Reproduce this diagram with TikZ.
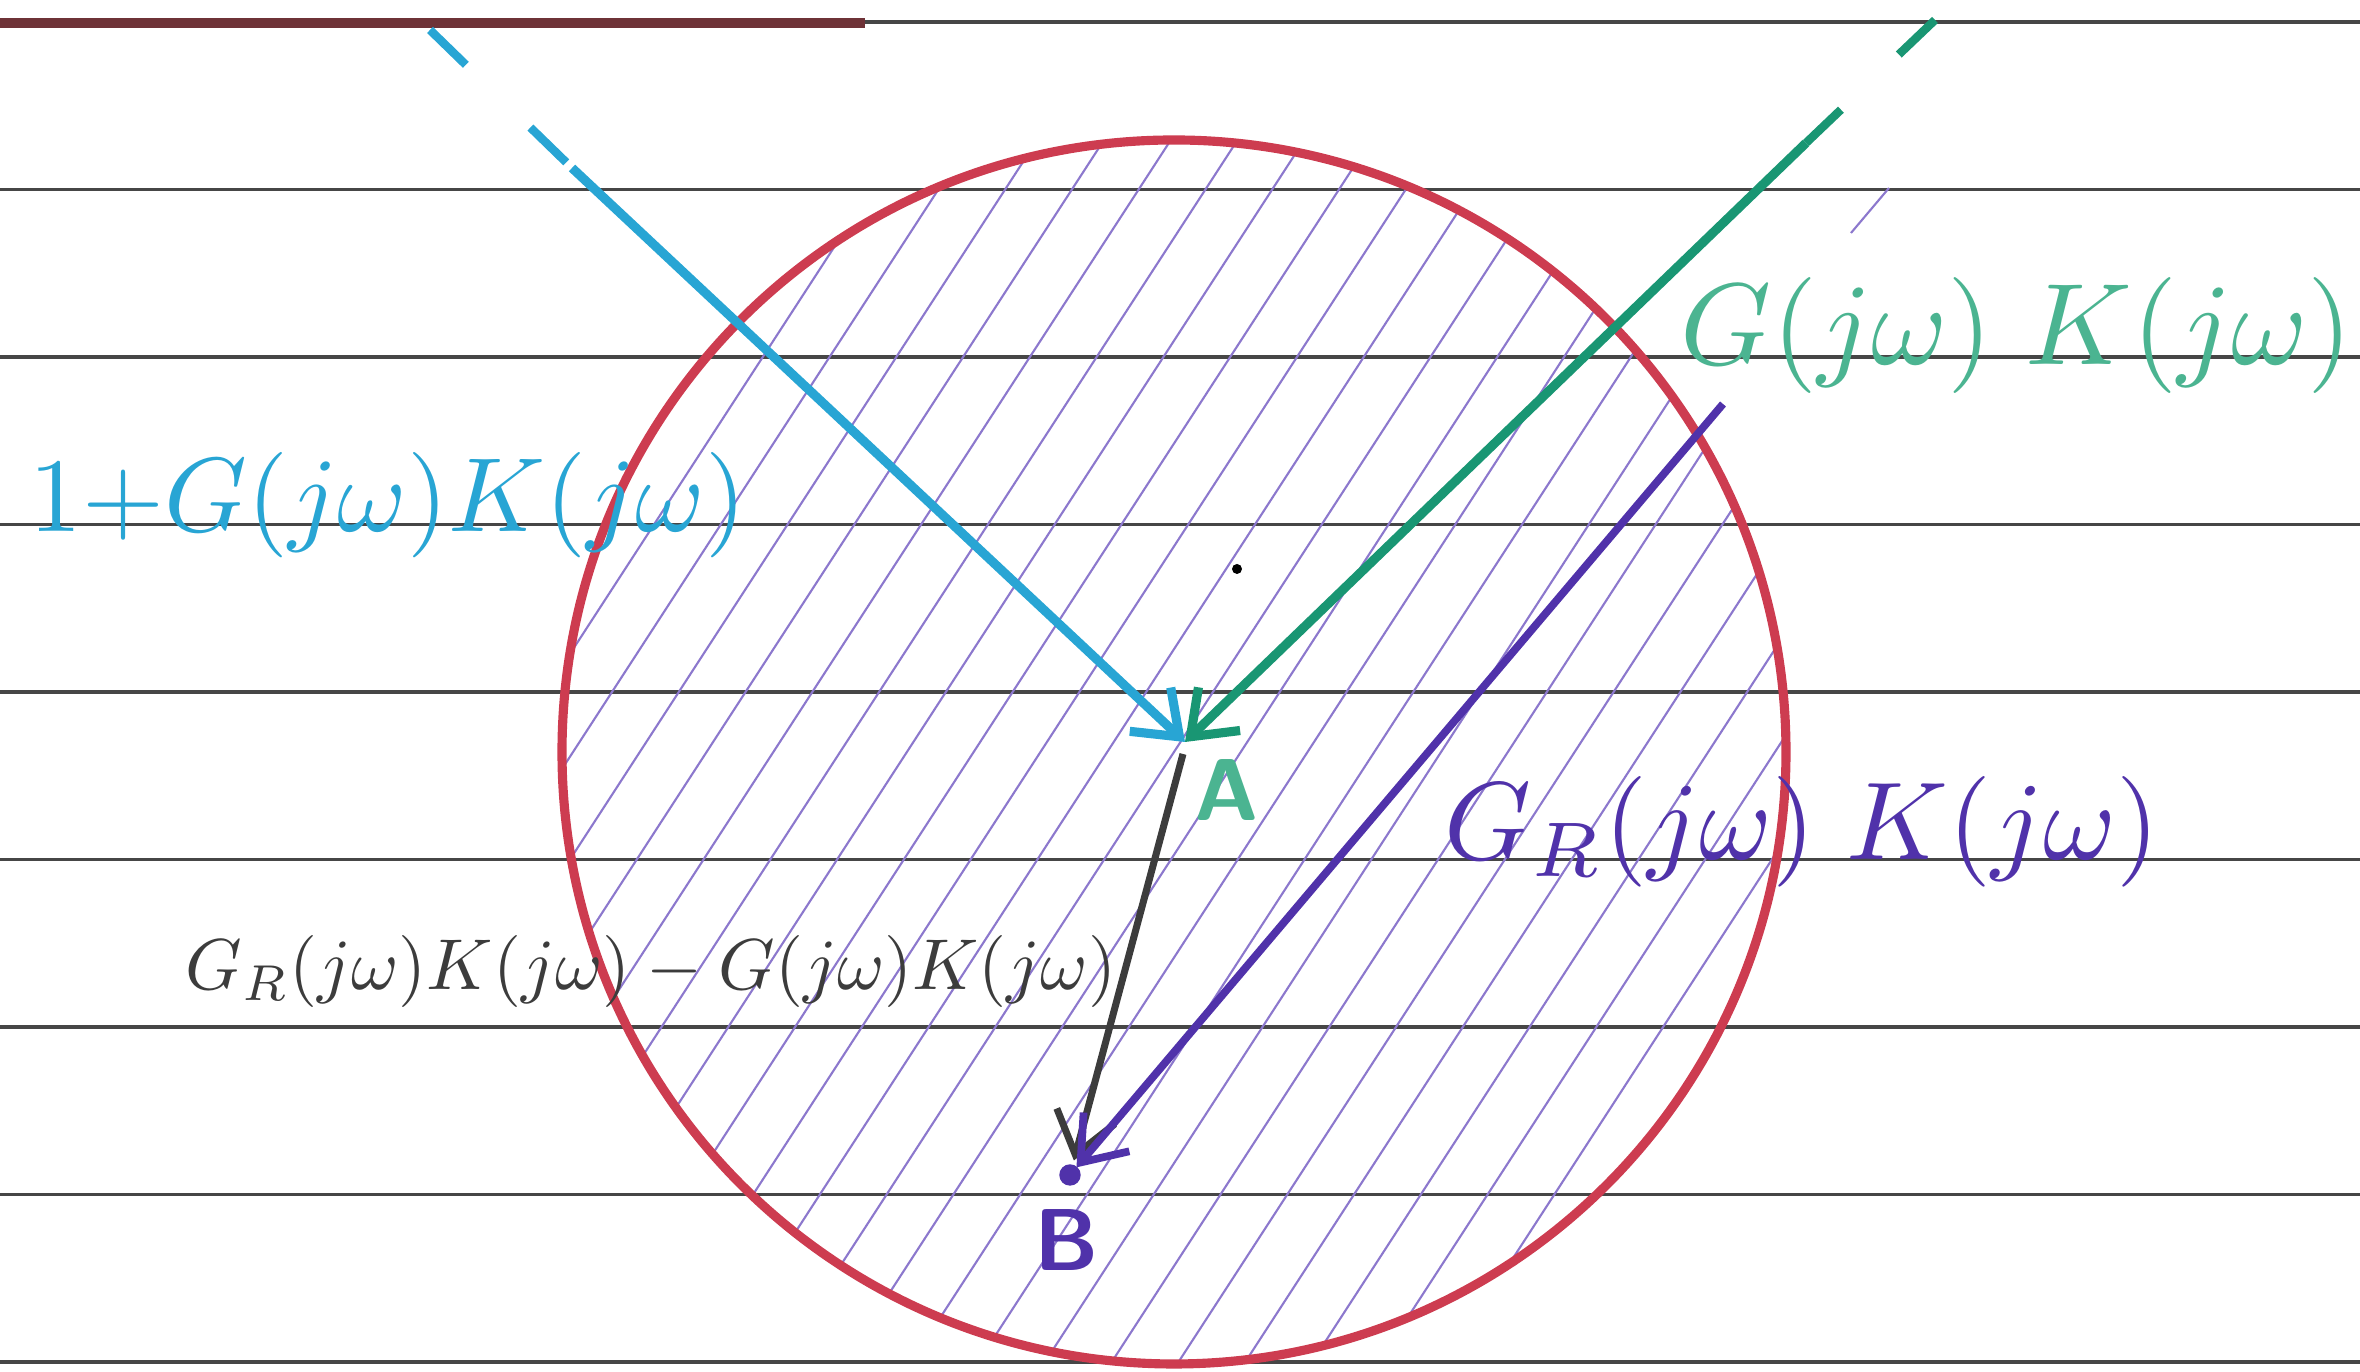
\documentclass[tikz,border=0pt]{standalone}
\usepackage{amsmath,amssymb}
\usepackage{tikz}
\usetikzlibrary{arrows.meta}

\definecolor{penblue}{RGB}{40,165,212}
\definecolor{pengreen}{RGB}{25,150,115}
\definecolor{penlgreen}{RGB}{75,180,145}
\definecolor{penpurple}{RGB}{80,50,170}
\definecolor{penlilac}{RGB}{140,120,205}
\definecolor{penred}{RGB}{205,60,80}
\definecolor{pengrey}{RGB}{60,60,60}
\definecolor{ruling}{RGB}{70,70,70}
\definecolor{headline}{RGB}{110,50,55}

\begin{document}
\begin{tikzpicture}[>={Straight Barb[length=4mm,width=6mm]}]
    \useasboundingbox (0,0) rectangle (23.6,13.72);
    % ruled paper
    \foreach \k in {0,...,8}
      \draw[ruling,line width=0.9pt] (0,{13.50-1.675*\k}) -- (23.6,{13.50-1.675*\k});
    \draw[headline,line width=3pt] (0,13.49) -- (8.65,13.49);

    \coordinate (O) at (11.74,6.20);
    \coordinate (A) at (11.85,6.30);
    \coordinate (B) at (10.70,1.97);
    \coordinate (bluefar) at (4.30,13.42);
    \coordinate (bluenear) at (5.72,12.04);
    \coordinate (greenfar) at (19.35,13.52);
    \coordinate (greennear) at (18.06,12.29);
    \coordinate (purplestart) at (17.23,9.68);

    % hatched disc
    \begin{scope}
      \clip (O) circle (6.12);
      \begin{scope}[shift={(O)},rotate=57]
        \foreach \s in {-6.16,-5.60,...,6.2}
          \draw[penlilac,line width=0.6pt] (-7,\s) -- (7,\s);
      \end{scope}
    \end{scope}
    \draw[penlilac,line width=0.6pt] (18.89,11.84) -- (18.51,11.39);
    \draw[penred,line width=2.6pt] (O) circle (6.12);

    % vectors
    \draw[penblue,line width=2.4pt,dash pattern=on 5mm off 9mm] (bluefar) -- (bluenear);
    \draw[->,penblue,line width=2.6pt] (bluenear) -- (A);
    \draw[pengreen,line width=2.4pt,dash pattern=on 5mm off 8mm] (greenfar) -- (greennear);
    \draw[->,pengreen,line width=2.6pt] (greennear) -- (A);
    \draw[->,pengrey,line width=2pt,shorten >=1.5mm] ([shift={(-0.02,-0.12)}]A) -- (B);
    \draw[->,penpurple,line width=2.2pt,shorten >=1mm] (purplestart) -- (B);
    \filldraw[penpurple] (B) circle (0.1);
    \fill[black] (12.37,8.03) circle (0.05);

    % labels
    \node[penlgreen,scale=2.5,font=\sffamily\bfseries] (alabel) at (12.27,5.82) {A};
    \node[penpurple,scale=2.5,font=\sffamily\bfseries] (blabel) at (10.67,1.32) {B};
    \node[penblue,anchor=base,scale=3.0] (looplabel) at (3.88,8.40) {$1{+}G(j\omega)K(j\omega)$};
    \node[penlgreen,anchor=base,scale=3.3] (gklabel) at (20.17,10.07) {$G(j\omega)\;K(j\omega)$};
    \node[penpurple,anchor=base,scale=3.15] (grklabel) at (18.02,5.12) {$G_R(j\omega)\;K(j\omega)$};
    \node[pengrey,anchor=base,scale=2.05] (difflabel) at (6.51,3.82) {$G_R(j\omega)K(j\omega)-G(j\omega)K(j\omega)$};
  \end{tikzpicture}
\end{document}
